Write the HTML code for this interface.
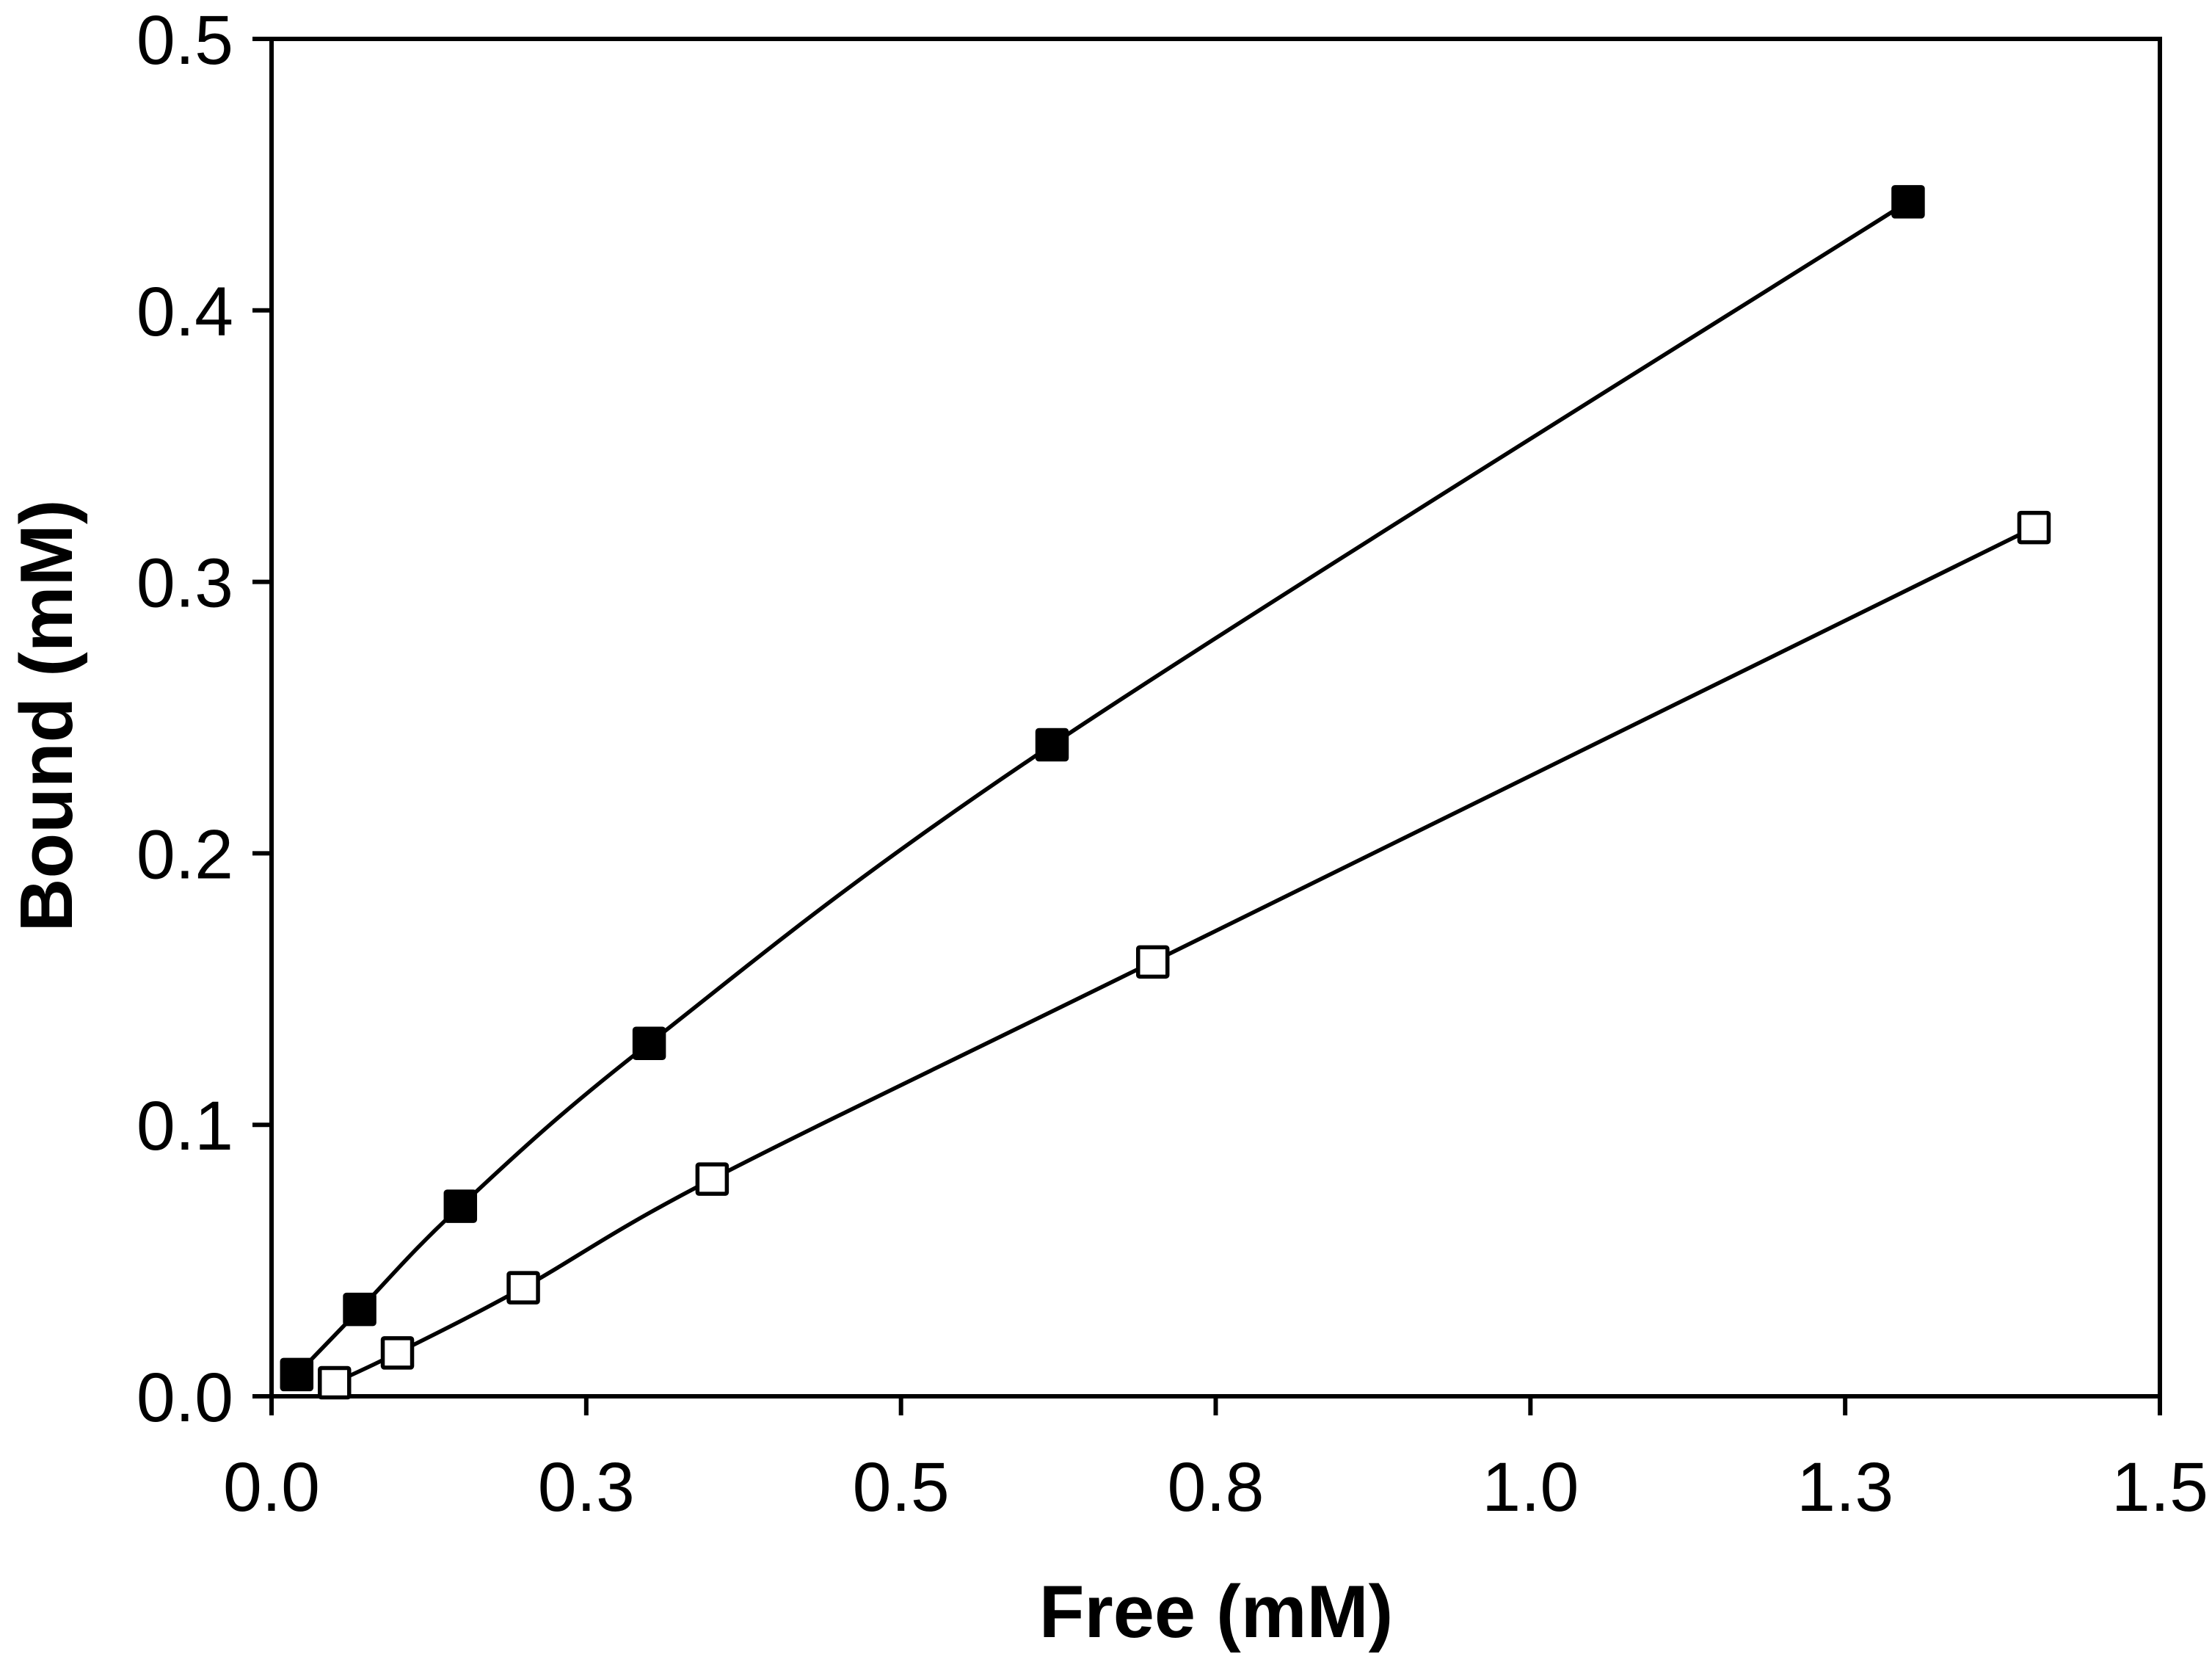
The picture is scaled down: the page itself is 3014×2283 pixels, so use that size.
<!DOCTYPE html>
<html><head><meta charset="utf-8"><style>
html,body{margin:0;padding:0;background:#fff;}
svg{display:block;}
text{font-family:"Liberation Sans",Arial,sans-serif;fill:#000;}
</style></head><body>
<svg id="chart" width="3014" height="2283" viewBox="0 0 3014 2283" xmlns="http://www.w3.org/2000/svg">
<g id="axes"></g>
<g id="series"></g>
<text x="1657" y="2230" font-size="101" font-weight="bold" text-anchor="middle">Free (mM)</text>
<text x="0" y="0" font-size="101" font-weight="bold" text-anchor="middle" transform="translate(98,975) rotate(-90)">Bound (mM)</text>
</svg>
<script>
const xTicks = [0, 0.25, 0.5, 0.75, 1.0, 1.25, 1.5];
const xTickLabels = ["0.0", "0.3", "0.5", "0.8", "1.0", "1.3", "1.5"];
const yTicks = [0, 0.1, 0.2, 0.3, 0.4, 0.5];
const yTickLabels = ["0.0", "0.1", "0.2", "0.3", "0.4", "0.5"];
const filledX = [0.02, 0.07, 0.15, 0.3, 0.62, 1.3];
const filledY = [0.008, 0.032, 0.07, 0.13, 0.24, 0.44];
const openX = [0.05, 0.1, 0.2, 0.35, 0.7, 1.4];
const openY = [0.005, 0.016, 0.04, 0.08, 0.16, 0.32];

const L = 370, R = 2943, T = 53, B = 1902;
const xMin = 0, xMax = 1.5, yMin = 0, yMax = 0.5;
function sx(v){ return L + (v - xMin) / (xMax - xMin) * (R - L); }
function sy(v){ return B - (v - yMin) / (yMax - yMin) * (B - T); }
const NS = "http://www.w3.org/2000/svg";
function mk(tag, attrs, parent){
  const e = document.createElementNS(NS, tag);
  for (const k in attrs) e.setAttribute(k, attrs[k]);
  parent.appendChild(e);
  return e;
}
const axes = document.getElementById('axes');
const frame = mk('rect', {x:L, y:T, width:R-L, height:B-T, fill:'none', stroke:'#000', 'stroke-width':6}, axes);


xTicks.forEach((v, i) => {
  const t = mk('line', {x1:sx(v), x2:sx(v), y1:B, y2:B+26, stroke:'#000', 'stroke-width':6}, axes);
  
  
  const lb = mk('text', {x:sx(v), y:2058, 'font-size':95, 'text-anchor':'middle'}, axes);
  lb.textContent = xTickLabels[i];
  
  
});
yTicks.forEach((v, i) => {
  const t = mk('line', {x1:L-26, x2:L, y1:sy(v), y2:sy(v), stroke:'#000', 'stroke-width':6}, axes);
  
  
  const lb = mk('text', {x:318, y:sy(v)+34, 'font-size':95, 'text-anchor':'end'}, axes);
  lb.textContent = yTickLabels[i];
  
  
});
const series = document.getElementById('series');
function splinePath(px, py){
  let d = 'M' + px[0] + ',' + py[0];
  for (let i = 0; i < px.length - 1; i++){
    const x0 = px[Math.max(i-1,0)], y0 = py[Math.max(i-1,0)];
    const x3 = px[Math.min(i+2,px.length-1)], y3 = py[Math.min(i+2,px.length-1)];
    const c1x = px[i] + (px[i+1]-x0)/6, c1y = py[i] + (py[i+1]-y0)/6;
    const c2x = px[i+1] - (x3-px[i])/6, c2y = py[i+1] - (y3-py[i])/6;
    d += ' C' + c1x + ',' + c1y + ' ' + c2x + ',' + c2y + ' ' + px[i+1] + ',' + py[i+1];
  }
  return d;
}
function drawSeries(xs, ys, filled, name){
  const p = mk('path', {d:splinePath(xs.map(sx), ys.map(sy)), fill:'none', stroke:'#000', 'stroke-width':5.5, 'stroke-linejoin':'round'}, series);
  
  
  const s = 40;
  xs.forEach((x, i) => {
    const r = mk('rect', {x:sx(x)-s/2, y:sy(ys[i])-s/2, width:s, height:s, rx:2,
      fill: filled ? '#000' : '#fff', stroke:'#000', 'stroke-width':5.5}, series);
    
    
  });
}
drawSeries(filledX, filledY, true, 'filled-series');
drawSeries(openX, openY, false, 'open-series');
</script>
</body></html>
